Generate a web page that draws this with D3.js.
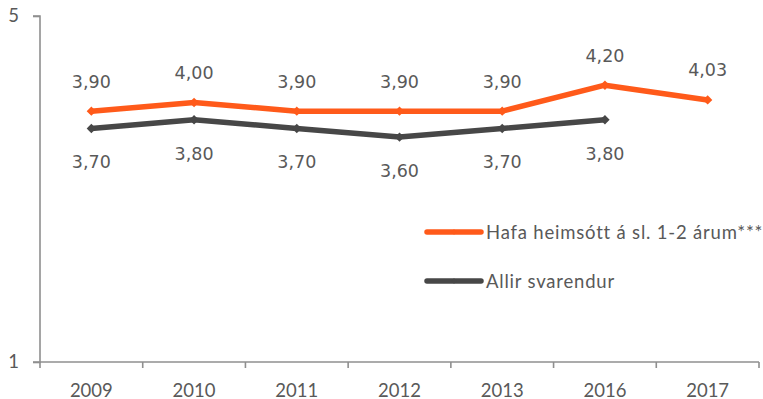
<!DOCTYPE html>
<html>
<head>
<meta charset="utf-8">
<script src="https://cdn.jsdelivr.net/npm/d3@7"></script>
<style>
  html, body { margin: 0; padding: 0; background: #fff; }
  svg { display: block; }
</style>
</head>
<body>
<svg id="chart" width="763" height="399"></svg>
<script>
// Survey years on the category axis
const years = ["2009", "2010", "2011", "2012", "2013", "2016", "2017"];
// Average score, visited in the last 1-2 years
const visitedValues = [3.90, 4.00, 3.90, 3.90, 3.90, 4.20, 4.03];
// Average score, all respondents (no 2017 value)
const allValues = [3.70, 3.80, 3.70, 3.60, 3.70, 3.80, null];
const seriesNames = ["Hafa heimsótt á sl. 1-2 árum***", "Allir svarendur"];
const yTicks = [1, 5];

const orange = "#ff5a1a";
const dark = "#474747";
const textColor = "#595959";
const axisColor = "#8f8f8f";

const svg = d3.select("#chart");
const plotLeft = 40, plotRight = 759, plotTop = 16, plotBottom = 362;

const x = d3.scaleBand().domain(years).range([plotLeft, plotRight]).padding(0);
const y = d3.scaleLinear().domain([1, 5]).range([plotBottom, plotTop]);
const fmt = v => v.toFixed(2).replace(".", ",");

// Y axis: only the end ticks
const yAxis = svg.append("g").attr("transform", `translate(${plotLeft},0)`)
  .call(d3.axisLeft(y).tickValues(yTicks).tickSize(7).tickPadding(14).tickFormat(d3.format("d")));
yAxis.select(".domain").attr("stroke", axisColor).attr("stroke-width", 1.6).attr("d", `M-7,${plotTop}H0V${plotBottom}H-7`);
yAxis.selectAll(".tick line").attr("stroke", axisColor).attr("stroke-width", 1.6);
yAxis.selectAll(".tick text").attr("fill", textColor)
  .style("font-family", "Lato, 'Open Sans', sans-serif").style("font-size", "18.5px");

// X axis: tick marks on category boundaries, labels centred in bands
const xAxis = svg.append("g").attr("transform", `translate(0,${plotBottom})`);
xAxis.append("line").attr("x1", plotLeft).attr("x2", plotRight).attr("y1", 0).attr("y2", 0)
  .attr("stroke", axisColor).attr("stroke-width", 1.6);
const bounds = years.map(d => x(d)).concat([x(years[years.length - 1]) + x.bandwidth()]);
xAxis.selectAll("line.b").data(bounds).enter().append("line").attr("class", "b")
  .attr("x1", d => d).attr("x2", d => d).attr("y1", 0).attr("y2", 6)
  .attr("stroke", axisColor).attr("stroke-width", 1.6);
xAxis.selectAll("text").data(years).enter().append("text")
  .attr("x", d => x(d) + x.bandwidth() / 2).attr("y", 34.5)
  .attr("text-anchor", "middle").attr("fill", textColor)
  .style("font-family", "Lato, 'Open Sans', sans-serif").style("font-size", "18.5px")
  .text(d => d);

const cx = d => x(d) + x.bandwidth() / 2;
const line = d3.line().defined(d => d.v != null).x(d => cx(d.year)).y(d => y(d.v));
const diamond = d3.symbol().type(d3.symbolDiamond2).size(56);

function drawSeries(values, color, labelDy) {
  const pts = years.map((year, i) => ({ year, v: values[i] })).filter(d => d.v != null);
  svg.append("path").datum(pts).attr("d", line).attr("fill", "none")
    .attr("stroke", color).attr("stroke-width", 5.5).attr("stroke-linejoin", "round").attr("stroke-linecap", "round");
  svg.append("g").selectAll("path").data(pts).enter().append("path")
    .attr("d", diamond).attr("fill", color)
    .attr("transform", d => `translate(${cx(d.year)},${y(d.v)})`);
  svg.append("g").selectAll("text").data(pts).enter().append("text")
    .attr("x", d => cx(d.year)).attr("y", d => y(d.v) + labelDy)
    .attr("text-anchor", "middle").attr("fill", textColor)
    .style("font-family", "'DejaVu Sans', Verdana, sans-serif").style("font-size", "17.5px")
    .text(d => fmt(d.v));
}

drawSeries(allValues, dark, 40);
drawSeries(visitedValues, orange, -23.5);

// Legend
const legend = svg.append("g");
[[orange, 232], [dark, 281]].forEach(([color, ly], i) => {
  legend.append("line").attr("x1", 427).attr("x2", 481).attr("y1", ly).attr("y2", ly)
    .attr("stroke", color).attr("stroke-width", 5.5).attr("stroke-linecap", "round");
  legend.append("path").attr("d", d3.symbol().type(d3.symbolDiamond2).size(20))
    .attr("fill", color).attr("transform", `translate(454,${ly})`);
  legend.append("text").attr("x", 486).attr("y", ly + 7)
    .attr("fill", textColor)
    .style("font-family", "Lato, 'Open Sans', sans-serif").style("font-size", "18.5px")
    .style("letter-spacing", "0.8px")
    .text(seriesNames[i]);
});
</script>
</body>
</html>
